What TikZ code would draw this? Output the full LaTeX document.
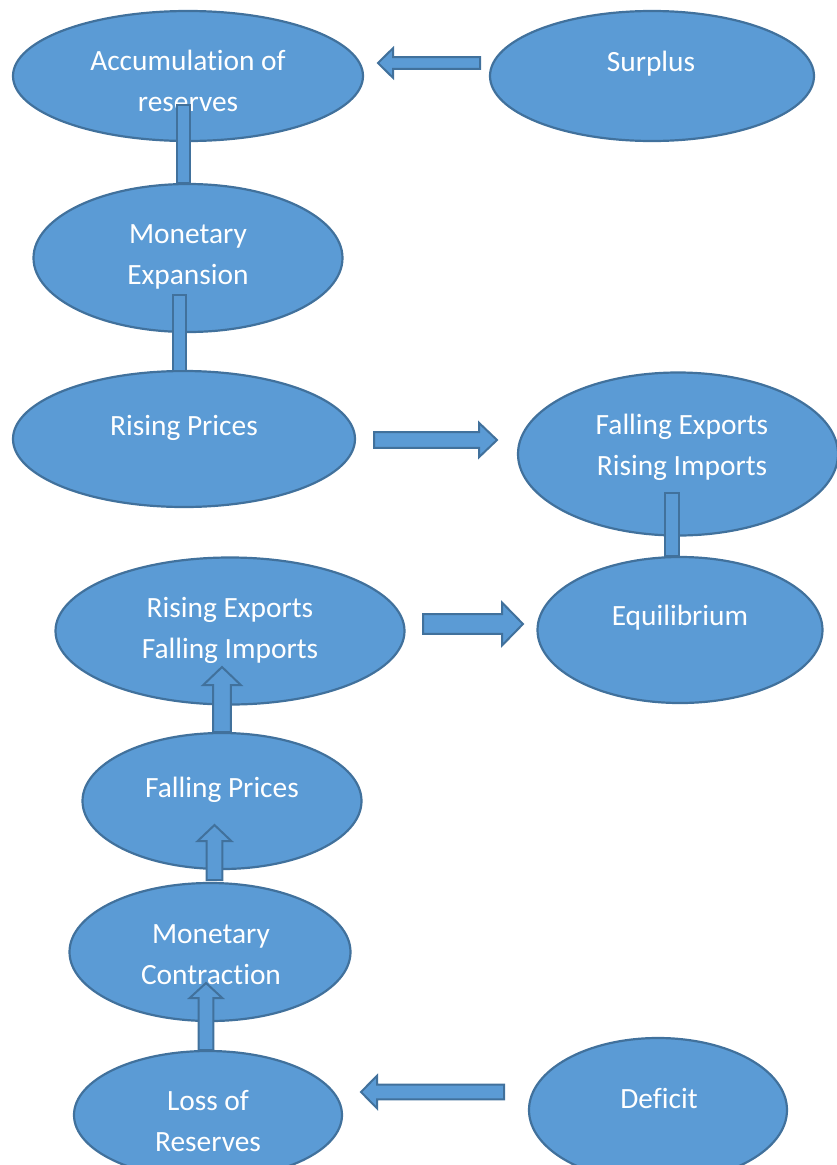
\documentclass[tikz,border=0pt]{standalone}
\usepackage{fontspec}
\setmainfont{Carlito}[Ligatures=NoCommon]
\usetikzlibrary{shapes.geometric,calc}
\definecolor{blobfill}{HTML}{5B9BD5}
\definecolor{blobline}{HTML}{41719C}

% block arrow: tail, tip, shaft half width, head half width, head length
\newcommand{\fatarrow}[5]{%
  \draw[arrowbox] let \p1=($(#2)-(#1)$), \n1={veclen(\x1,\y1)}, \n2={atan2(\y1,\x1)} in
    [shift={(#1)}, rotate=\n2]
    (0pt,#3pt) -- (\n1-#5pt,#3pt) -- (\n1-#5pt,#4pt) -- (\n1+0pt,0pt)
    -- (\n1-#5pt,-#4pt) -- (\n1-#5pt,-#3pt) -- (0pt,-#3pt) -- cycle;}
% plain bar between two ellipses
\newcommand{\fatbar}[3]{%
  \draw[arrowbox] let \p1=($(#2)-(#1)$), \n1={veclen(\x1,\y1)}, \n2={atan2(\y1,\x1)} in
    [shift={(#1)}, rotate=\n2]
    (0pt,#3pt) -- (\n1+0pt,#3pt) -- (\n1+0pt,-#3pt) -- (0pt,-#3pt) -- cycle;}

\begin{document}
\begin{tikzpicture}[x=1pt, y=-1pt,
    blob/.style={ellipse, draw=blobline, fill=blobfill, line width=2.2pt, inner sep=0pt},
    blobtext/.style={text=white, align=center, font=\fontsize{29.4}{41}\selectfont},
    arrowbox/.style={draw=blobline, fill=blobfill, line width=2pt, line join=miter}]
    \useasboundingbox (0,0) rectangle (837,1165);

    % ellipses
    \node[blob, minimum width=350pt, minimum height=130pt] (acc) at (188,76) {};
    \node[blob, minimum width=324pt, minimum height=130pt] (sur) at (652,76) {};
    \node[blob, minimum width=309pt, minimum height=148pt] (mexp) at (188,258) {};
    \node[blob, minimum width=342pt, minimum height=136pt] (rp) at (184,439) {};
    \node[blob, minimum width=320pt, minimum height=163pt] (fe) at (678,454) {};
    \node[blob, minimum width=285pt, minimum height=146pt] (eq) at (680,630) {};
    \node[blob, minimum width=349pt, minimum height=147pt] (re) at (230,631) {};
    \node[blob, minimum width=279pt, minimum height=136pt] (fp) at (222,801) {};
    \node[blob, minimum width=281pt, minimum height=138pt] (mc) at (210,952) {};
    \node[blob, minimum width=268pt, minimum height=128pt] (loss) at (208,1115) {};
    \node[blob, minimum width=258pt, minimum height=144pt] (def) at (658,1110) {};

    % texts
    \node[blobtext] (acc-t) at (188,80.5) {Accumulation of\\reserves};
    \node[blobtext] (sur-t) at (651,63.5) {Surplus};
    \node[blobtext] (mexp-t) at (188,256.5) {Monetary\\Expansion};
    \node[blobtext] (rp-t) at (184,427.5) {Rising Prices};
    \node[blobtext] (fe-t) at (682,447.5) {Falling Exports\\Rising Imports};
    \node[blobtext] (eq-t) at (680,617.5) {Equilibrium};
    \node[blobtext] (re-t) at (230,630.5) {Rising Exports\\Falling Imports};
    \node[blobtext] (fp-t) at (222,789.5) {Falling Prices};
    \node[blobtext] (mc-t) at (211,954.5) {Monetary\\Contraction};
    \node[blobtext] (loss-t) at (208,1121.5) {Loss of\\Reserves};
    \node[blobtext] (def-t) at (659,1098.5) {Deficit};

    % connector ends
    \coordinate (b1-a) at (183.5,105); \coordinate (b1-b) at (183.5,183);
    \coordinate (b2-a) at (179.5,295); \coordinate (b2-b) at (179.5,371);
    \coordinate (b3-a) at (672,493);   \coordinate (b3-b) at (672,556);
    \coordinate (a1-tail) at (480,63);   \coordinate (a1-tip) at (378,63);
    \coordinate (a2-tail) at (374,440);  \coordinate (a2-tip) at (497,440);
    \coordinate (a3-tail) at (423,624);  \coordinate (a3-tip) at (523,624);
    \coordinate (a4-tail) at (222,732);  \coordinate (a4-tip) at (222,667);
    \coordinate (a5-tail) at (214.5,880); \coordinate (a5-tip) at (214.5,825);
    \coordinate (a6-tail) at (206,1050); \coordinate (a6-tip) at (206,983);
    \coordinate (a7-tail) at (504,1092); \coordinate (a7-tip) at (361,1092);

    % bars
    \fatbar{b1-a}{b1-b}{6.8}
    \fatbar{b2-a}{b2-b}{6.8}
    \fatbar{b3-a}{b3-b}{7.2}

    % block arrows
    \fatarrow{a1-tail}{a1-tip}{5.8}{14.8}{15}
    \fatarrow{a2-tail}{a2-tip}{7.8}{17.2}{18}
    \fatarrow{a3-tail}{a3-tip}{9.8}{21.5}{21}
    \fatarrow{a4-tail}{a4-tip}{8.8}{18.8}{18}
    \fatarrow{a5-tail}{a5-tip}{7.8}{16.8}{16}
    \fatarrow{a6-tail}{a6-tip}{7.3}{16.3}{15}
    \fatarrow{a7-tail}{a7-tip}{7.3}{16.3}{16}
\end{tikzpicture}
\end{document}
